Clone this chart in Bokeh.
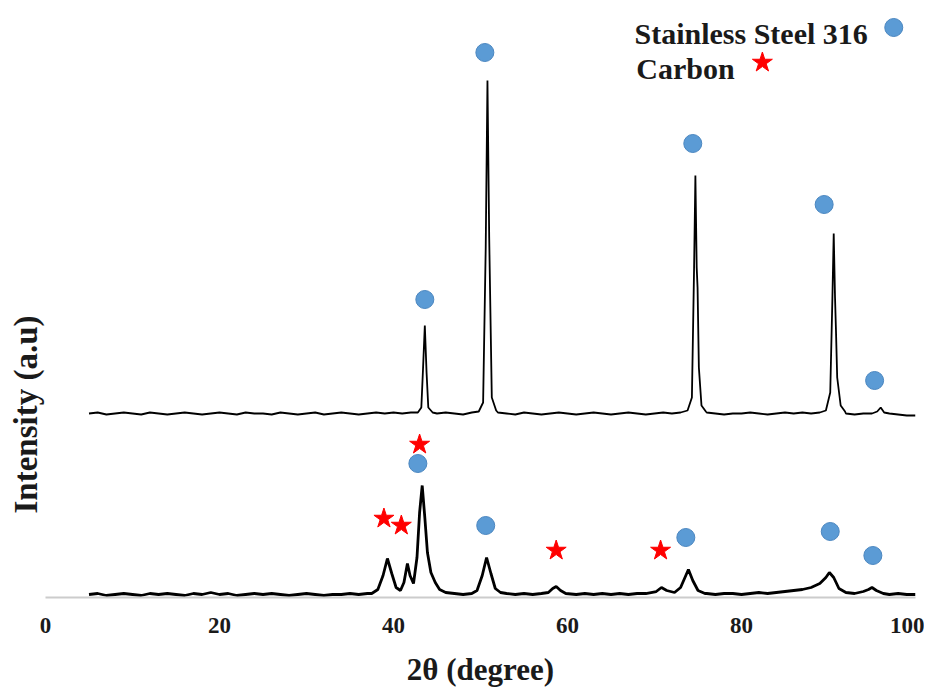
from bokeh.plotting import figure
from bokeh.models import FixedTicker, Range1d, Title
from bokeh.core.properties import value
from bokeh.embed import file_html
from bokeh.resources import INLINE

# ---------------- data ----------------
# Upper trace: Stainless Steel 316 (offset pattern)
ss_x = [5, 6, 7, 8, 9, 10, 11, 12, 13, 14, 15, 16, 17, 18, 19, 20, 21, 22, 23, 24,
        25, 26, 27, 28, 29, 30, 31, 32, 33, 34, 35, 36, 37, 38, 39, 40, 41, 42,
        42.8, 43.2, 43.4, 43.6, 43.8, 44.0, 44.5, 45, 46, 47, 48, 49,
        49.8, 50.3, 50.6, 50.8, 51.0, 51.3, 51.8, 52, 53, 54, 55, 56, 57, 58, 59,
        60, 61, 62, 63, 64, 65, 66, 67, 68, 69, 70, 71, 72, 73,
        73.8, 74.3, 74.55, 74.7, 74.85, 74.95, 75.1, 75.4, 75.9, 76, 77, 78, 79,
        80, 81, 82, 83, 84, 85, 86, 87, 88, 89,
        89.7, 90.2, 90.45, 90.6, 90.75, 90.85, 91.0, 91.4, 91.9, 92, 93, 94, 95,
        95.6, 96.0, 96.4, 97, 98, 99, 100]
ss_y = [184, 185, 183, 184, 185, 184, 183, 185, 184, 183, 184, 185, 184, 183, 184, 185, 184, 183, 185, 184,
        184, 183, 185, 184, 183, 184, 185, 183, 184, 185, 184, 183, 184, 185, 184, 185, 184, 185,
        185, 190, 230, 272, 225, 190, 185, 184, 185, 184, 183, 185,
        186, 195, 350, 517, 360, 200, 187, 185, 184, 183, 185, 184, 183, 184, 185,
        184, 183, 184, 185, 184, 183, 184, 185, 184, 183, 184, 185, 184, 185,
        187, 200, 330, 422, 330, 310, 230, 192, 186, 185, 184, 183, 184,
        184, 185, 184, 183, 184, 185, 184, 185, 184, 185,
        187, 205, 300, 364, 300, 270, 220, 192, 186, 184, 183, 184, 184,
        186, 190, 185, 184, 183, 182, 182]

# Lower trace: Stainless Steel 316 + Carbon
sc_x = [5, 6, 7, 8, 9, 10, 11, 12, 13, 14, 15, 16, 17, 18, 19, 20, 21, 22, 23, 24,
        25, 26, 27, 28, 29, 30, 31, 32, 33, 34, 35, 36, 37,
        37.5, 38.2, 38.8, 39.3, 39.8, 40.3, 40.8, 41.2, 41.6, 41.9, 42.3, 42.7,
        43.0, 43.3, 43.6, 43.9, 44.3, 44.8, 45.3, 46, 47, 48, 49,
        49.6, 50.2, 50.7, 51.2, 51.7, 52.3, 53, 54, 55, 56, 57,
        57.8, 58.3, 58.7, 59.2, 59.8, 61, 62, 63, 64, 65, 66, 67, 68, 69,
        70.2, 70.8, 71.4, 72.3, 73.0, 73.5, 73.9, 74.4, 75.0, 75.8,
        76, 77, 78, 79, 80, 81, 82, 83, 84, 85, 86, 87, 88, 89,
        89.7, 90.1, 90.6, 91.2, 92, 93, 94, 94.6, 95.0, 95.5, 96.3, 97, 98, 99, 100]
sc_y = [3, 4, 2, 3, 4, 3, 2, 4, 3, 4, 3, 2, 4, 3, 5, 3, 4, 2, 3, 4,
        3, 4, 3, 2, 3, 4, 3, 2, 3, 3, 4, 3, 4,
        4, 8, 22, 39, 24, 10, 7, 15, 34, 22, 14, 40,
        85, 112, 80, 45, 25, 15, 8, 5, 4, 3, 4,
        7, 22, 40, 24, 9, 5, 4, 3, 4, 3, 4,
        5, 9, 11, 7, 4, 3, 4, 3, 4, 3, 4, 3, 4, 4,
        6, 10, 7, 5, 10, 20, 28, 17, 7, 4,
        4, 3, 4, 4, 3, 4, 5, 4, 5, 6, 7, 8, 10, 14,
        20, 25, 20, 9, 5, 4, 6, 8, 10, 7, 4, 3, 4, 3, 3]

# Peak markers: Stainless Steel 316 (circles)
ss_mark_x = [43.6, 50.5, 74.4, 89.5, 95.3, 42.8, 50.6, 73.6, 90.2, 95.1]
ss_mark_y = [298, 545, 454, 393, 217, 134, 72, 60, 66, 42]
# Peak markers: Carbon (stars)
c_mark_x = [43.0, 38.9, 40.9, 58.7, 70.7]
c_mark_y = [153, 79, 72, 47, 47]

x_ticks = [0, 20, 40, 60, 80, 100]
legend_labels = ["Stainless Steel 316", "Carbon"]

# ---------------- figure ----------------
FONT = value("Liberation Serif")
TXT = "#1a1a1a"
p = figure(width=924, height=690, output_backend="svg", toolbar_location=None,
           x_range=Range1d(0, 100), y_range=Range1d(0, 597),
           min_border_left=45, min_border_right=9, min_border_top=0, min_border_bottom=93)
p.outline_line_color = None
p.grid.grid_line_color = None

p.line(sc_x, sc_y, line_color="black", line_width=2.8)
p.line(ss_x, ss_y, line_color="black", line_width=1.8)

p.scatter(ss_mark_x, ss_mark_y, marker="circle", size=18,
          fill_color="#5b9bd5", line_color="#4a86c0", line_width=1)
p.scatter(c_mark_x, c_mark_y, marker="star", size=21,
          fill_color="#ff0000", line_color="#ff0000", line_width=1)

# legend (custom: text then marker)
p.text(x=[67.7, 67.9], y=[564, 529], text=legend_labels, text_font=FONT,
       text_font_style="bold", text_font_size="30px", text_baseline="alphabetic",
       text_align="left", text_color=TXT)
p.scatter([97.5], [570], marker="circle", size=18, fill_color="#5b9bd5",
          line_color="#4a86c0")
p.scatter([82.4], [535], marker="star", size=21, fill_color="#ff0000",
          line_color="#ff0000")

# axes
xa = p.xaxis[0]
xa.ticker = FixedTicker(ticks=x_ticks)
xa.axis_line_color = "#cccccc"
xa.axis_line_width = 2
xa.major_tick_line_color = None
xa.minor_tick_line_color = None
xa.major_tick_out = 0
xa.major_tick_in = 0
xa.major_label_standoff = 20
xa.major_label_text_font = "Liberation Serif"
xa.major_label_text_font_style = "bold"
xa.major_label_text_font_size = "23px"
xa.major_label_text_color = TXT
xa.axis_label = "2θ (degree)"
xa.axis_label_text_font = "Liberation Serif"
xa.axis_label_text_font_style = "bold"
xa.axis_label_text_font_size = "31px"
xa.axis_label_text_color = TXT
xa.axis_label_standoff = 16

p.yaxis.visible = False

# vertical y-axis title, positioned along the left side
ytitle = Title(text="Intensity  (a.u)", align="left", offset=84, standoff=3,
               text_font="Liberation Serif", text_font_style="bold",
               text_font_size="33px", text_color=TXT)
p.add_layout(ytitle, "left")

open("out.html", "w").write(file_html(p, INLINE))
